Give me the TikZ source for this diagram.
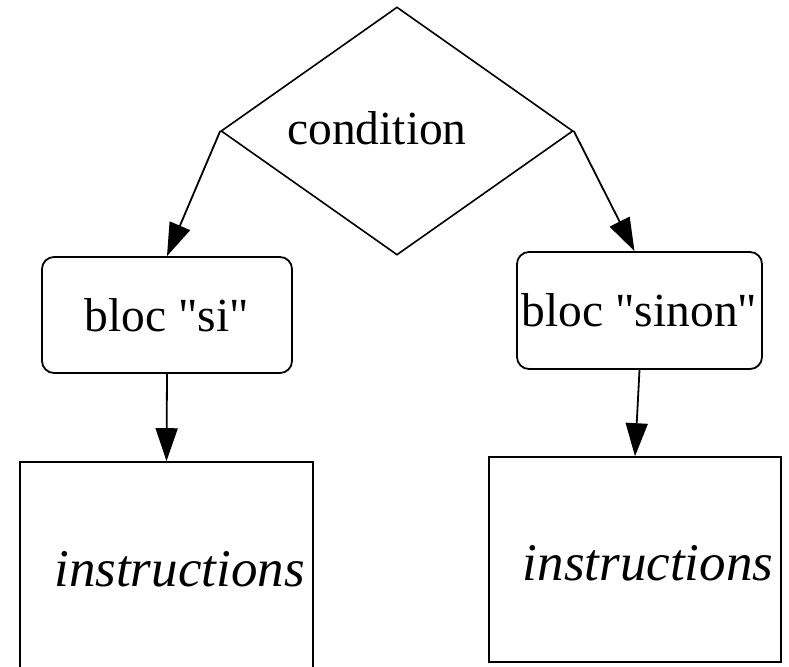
\documentclass[tikz,border=0pt]{standalone}
\usepackage{fontspec}
\newfontfamily\diafont{Liberation Serif}
\usetikzlibrary{shapes.geometric, arrows.meta}

\tikzset{
  flow/.style={-{Triangle[length=33pt,width=22pt]}, line width=1.8pt},
  decision/.style={diamond, draw, line width=1.6pt, inner sep=0pt, minimum width=352pt, minimum height=248pt},
  blocbox/.style={rectangle, draw, rounded corners=12pt, line width=1.8pt},
  instrbox/.style={rectangle, draw, line width=1.6pt},
  instrtext/.style={font=\diafont\itshape\fontsize{53}{55}\selectfont},
}

\begin{document}
\begin{tikzpicture}[x=1pt, y=-1pt, font=\diafont\fontsize{47.5}{50}\selectfont]
\useasboundingbox (0,0) rectangle (789,666);

\node (cond) [decision, label={[shift={(-20pt,3pt)}]center:condition}] at (397,131) {};

\node (si)    [blocbox, minimum width=250pt, minimum height=116pt] at (167,315)   {bloc "si"};
\node (sinon) [blocbox, minimum width=245pt, minimum height=117pt] at (639.5,310.5) {bloc "sinon"};

% blocs d'instructions
\node (instrA) [instrbox, minimum width=293pt, minimum height=212pt,
  label={[shift={(13pt,-1pt)}, instrtext]center:instructions}] at (166.5,568) {};
\node (instrB) [instrbox, minimum width=292pt, minimum height=205pt,
  label={[shift={(13pt,-4pt)}, instrtext]center:instructions}] at (635,559.5) {};

\draw[flow] (cond.west) -- (si.north);
\draw[flow] (cond.east) -- ([xshift=-5pt]sinon.north);
\draw[flow] (si.south) -- (instrA.north);
\draw[flow] (sinon.south) -- (instrB.north);
\end{tikzpicture}
\end{document}
